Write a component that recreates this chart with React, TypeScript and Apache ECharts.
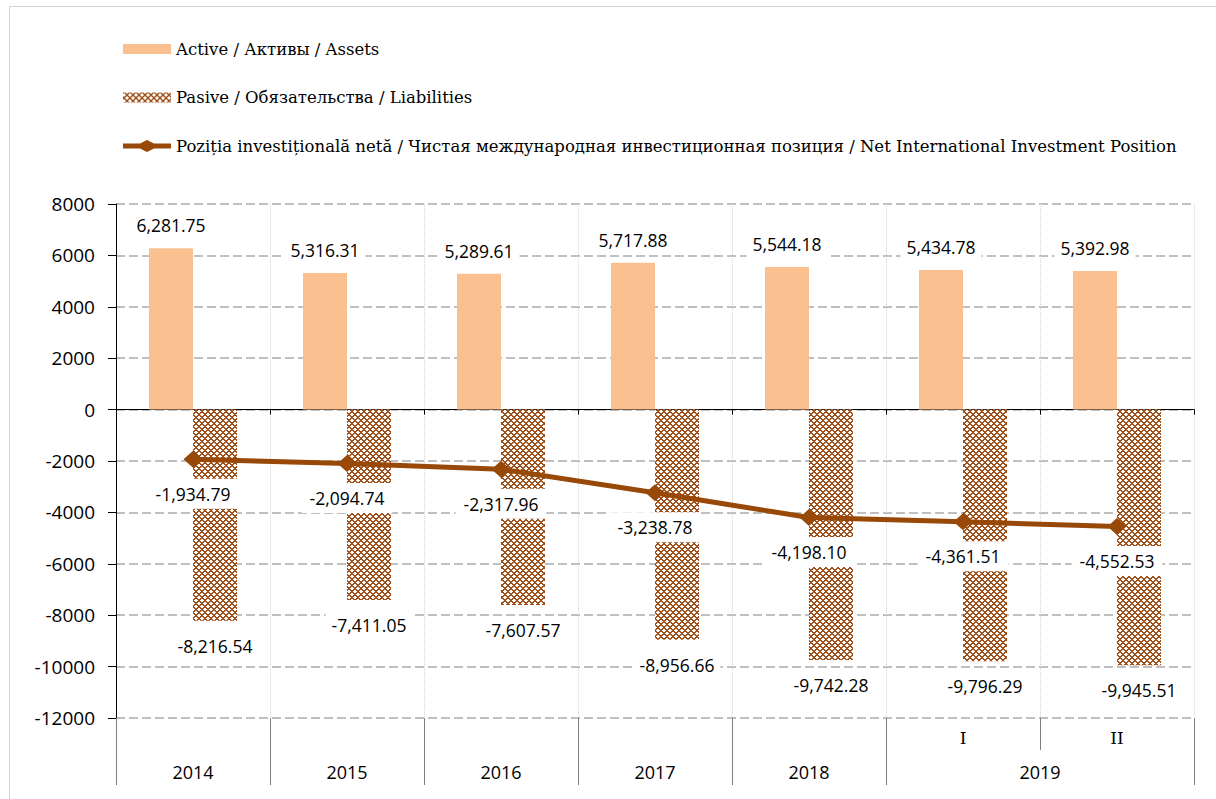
import React, { useEffect, useRef } from "react";
import * as echarts from "echarts";

// ---------- data ----------
const categories = ["2014", "2015", "2016", "2017", "2018", "I", "II"];
const yearGroups = ["2014", "2015", "2016", "2017", "2018", "2019", "2019"];
const assets = [6281.75, 5316.31, 5289.61, 5717.88, 5544.18, 5434.78, 5392.98];
const liabilities = [-8216.54, -7411.05, -7607.57, -8956.66, -9742.28, -9796.29, -9945.51];
const niip = [-1934.79, -2094.74, -2317.96, -3238.78, -4198.1, -4361.51, -4552.53];
const yMin = -12000;
const yMax = 8000;
const yStep = 2000;
const seriesNames = [
  "Active / Активы / Assets",
  "Pasive / Обязательства / Liabilities",
  "Poziția investițională netă / Чистая международная инвестиционная позиция / Net International Investment Position",
];

// ---------- layout ----------
const W = 1216;
const H = 799;
const GRID = { left: 116, right: 22, top: 204, bottom: 81 };
const BAND = (W - GRID.left - GRID.right) / categories.length;

const fmt = (v: number) =>
  v.toLocaleString("en-US", { minimumFractionDigits: 2, maximumFractionDigits: 2 });

function makePattern(): string {
  const c = document.createElement("canvas");
  c.width = 6;
  c.height = 6;
  const ctx = c.getContext("2d")!;
  ctx.fillStyle = "#ffffff";
  ctx.fillRect(0, 0, 6, 6);
  ctx.fillStyle = "#A0501A";
  for (let x = 0; x < 6; x++) {
    for (let y = 0; y < 6; y++) {
      if ((x + y) % 6 < 2 || (x - y + 6) % 6 < 2) ctx.fillRect(x, y, 1, 1);
    }
  }
  return c.toDataURL();
}

const labelFont = { fontFamily: "Open Sans", fontSize: 17.5, color: "#000" };
const LINE_COLOR = "#984807";
const BAR_ICON = "path://M0,1H48V11H0Z";
const LINE_ICON = "path://M0,3.5H17L24,0L31,3.5H48V8.5H31L24,12L17,8.5H0Z";

export default function App() {
  const ref = useRef<HTMLDivElement>(null);
  useEffect(() => {
    if (!ref.current) return;
    const chart = echarts.init(ref.current, null, { renderer: "svg" });
    const pattern = { image: makePattern(), repeat: "repeat", imageWidth: 6, imageHeight: 6 } as any;
    const gridBase = { ...GRID, outerBoundsMode: "none", containLabel: false };
    const hiddenY = (i: number) => ({
      gridIndex: i,
      type: "value",
      min: yMin,
      max: yMax,
      interval: yStep,
      show: false,
      splitLine: { show: false },
    });
    const bottomLabel = (value: string, idx: number) => {
      const grp = yearGroups[idx];
      if (grp === value) return " \n{yr|" + value + "}";
      const first = yearGroups.indexOf(grp) === idx;
      return first ? "{q|" + value + "}\n{span|" + grp + "}" : "{q|" + value + "}";
    };
    const groupSize = yearGroups.filter((g) => g === "2019").length;

    chart.setOption({
      animation: false,
      backgroundColor: "#ffffff",
      graphic: [
        {
          type: "rect",
          silent: true,
          shape: { x: 9.5, y: 6.5, width: 1400, height: 1000 },
          style: { fill: "none", stroke: "#D0D0D0", lineWidth: 1 },
          z: -10,
        },
      ],
      legend: {
        orient: "vertical",
        left: 123,
        top: 39,
        padding: 0,
        itemWidth: 48,
        itemHeight: 12,
        itemGap: 28.5,
        selectedMode: false,
        textStyle: { fontFamily: "DejaVu Serif", fontSize: 16.5, color: "#000", lineHeight: 20 },
        data: [
          { name: seriesNames[0], icon: BAR_ICON },
          { name: seriesNames[1], icon: BAR_ICON },
          { name: seriesNames[2], icon: LINE_ICON, itemStyle: { color: LINE_COLOR } },
        ],
      },
      grid: [gridBase, gridBase, gridBase],
      xAxis: [
        {
          gridIndex: 0,
          type: "category",
          data: categories,
          axisLine: { show: true, onZero: true, lineStyle: { color: "#000", width: 1 } },
          axisTick: { show: true, length: 5, interval: 0, lineStyle: { color: "#000" } },
          axisLabel: { show: false },
          splitLine: { show: true, interval: 0, lineStyle: { color: "#D4D4D4", type: "dotted", width: 1 } },
        },
        {
          gridIndex: 1,
          type: "category",
          data: categories,
          position: "bottom",
          axisLine: { show: false, onZero: false },
          axisTick: {
            show: true,
            length: 67,
            interval: (i: number) => i !== 6,
            lineStyle: { color: "#7F7F7F", width: 1 },
          },
          axisLabel: {
            interval: 0,
            margin: 3,
            lineHeight: 34,
            color: "#000",
            fontFamily: "Open Sans",
            fontSize: 18,
            formatter: bottomLabel,
            rich: {
              yr: { fontFamily: "Open Sans", fontSize: 18, color: "#000", lineHeight: 34 },
              q: { fontFamily: "DejaVu Serif", fontSize: 17, color: "#000", lineHeight: 34, align: "center" },
              span: {
                fontFamily: "Open Sans",
                fontSize: 18,
                color: "#000",
                lineHeight: 34,
                padding: [0, 0, 0, BAND * (groupSize - 1)],
              },
            },
          },
          splitLine: { show: false },
        },
        {
          gridIndex: 2,
          type: "category",
          data: categories,
          position: "bottom",
          axisLine: { show: false, onZero: false },
          axisTick: {
            show: true,
            length: 32,
            interval: (i: number) => i === 0 || i === 6,
            lineStyle: { color: "#7F7F7F", width: 1 },
          },
          axisLabel: { show: false },
          splitLine: { show: false },
        },
      ],
      yAxis: [
        {
          gridIndex: 0,
          type: "value",
          min: yMin,
          max: yMax,
          interval: yStep,
          axisLine: { show: true, lineStyle: { color: "#000", width: 1 } },
          axisTick: { show: true, length: 8, lineStyle: { color: "#000" } },
          axisLabel: {
            margin: 21,
            color: "#000",
            fontFamily: "Open Sans",
            fontSize: 19,
            formatter: (v: number) => String(v),
          },
          splitLine: { show: true, lineStyle: { color: "#BFBFBF", type: [9, 4], width: 2 } },
        },
        hiddenY(1),
        hiddenY(2),
      ],
      series: [
        {
          name: seriesNames[0],
          type: "bar",
          xAxisIndex: 0,
          yAxisIndex: 0,
          data: assets,
          barWidth: 44,
          barGap: "0%",
          itemStyle: { color: "#FAC090" },
          label: {
            show: true,
            position: "top",
            distance: 10,
            formatter: (p: any) => fmt(p.value),
            backgroundColor: "#fff",
            padding: [4, 6],
            ...labelFont,
          },
        },
        {
          name: seriesNames[1],
          type: "bar",
          xAxisIndex: 0,
          yAxisIndex: 0,
          data: liabilities,
          barWidth: 44,
          barGap: "0%",
          itemStyle: { color: pattern },
          label: {
            show: true,
            position: "bottom",
            distance: 12,
            formatter: (p: any) => fmt(p.value),
            backgroundColor: "#fff",
            padding: [4, 6],
            ...labelFont,
          },
        },
        {
          name: seriesNames[2],
          type: "line",
          xAxisIndex: 0,
          yAxisIndex: 0,
          data: niip,
          symbol: "diamond",
          symbolSize: [19, 17],
          lineStyle: { color: LINE_COLOR, width: 5 },
          itemStyle: { color: LINE_COLOR },
          z: 5,
          label: {
            show: true,
            position: "bottom",
            distance: 11,
            formatter: (p: any) => fmt(p.value),
            backgroundColor: "#fff",
            padding: [6, 8],
            ...labelFont,
          },
        },
      ],
    } as any);
    return () => chart.dispose();
  }, []);
  return (
    <div
      ref={ref}
      style={{ position: "absolute", left: 0, top: 0, width: W, height: H, background: "#fff" }}
    />
  );
}
